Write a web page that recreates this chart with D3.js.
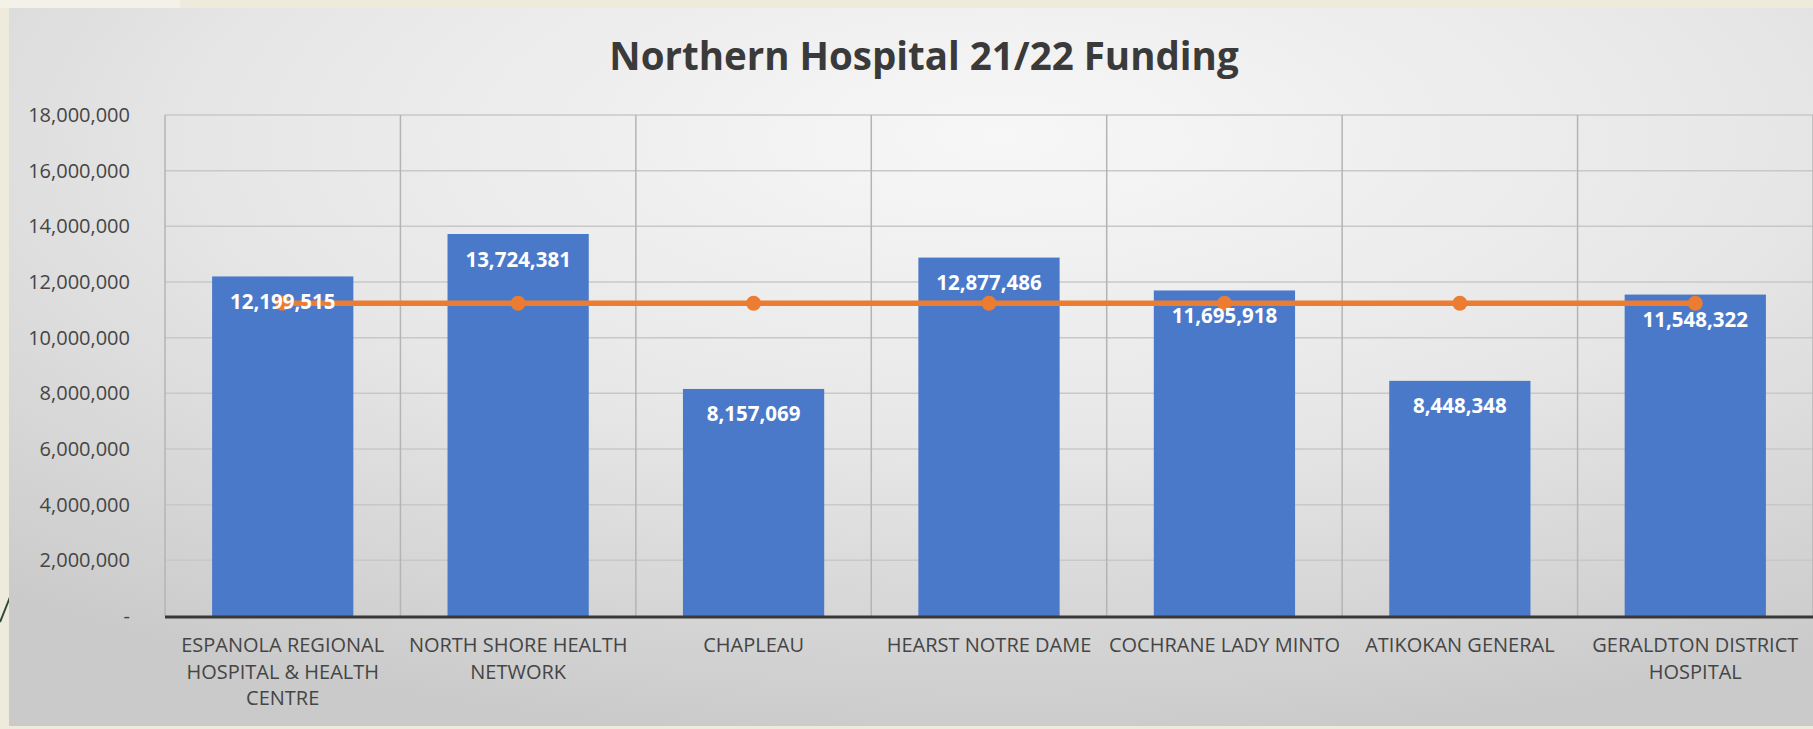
<!DOCTYPE html>
<html>
<head>
<meta charset="utf-8">
<script src="https://cdn.jsdelivr.net/npm/d3@7"></script>
<style>
  html, body { margin: 0; padding: 0; background: #eeebdd; }
  svg { display: block; }
</style>
</head>
<body>
<svg id="chart" width="1813" height="729"></svg>
<script>
// ---- Data ----
const categories = [
  "ESPANOLA REGIONAL HOSPITAL & HEALTH CENTRE",
  "NORTH SHORE HEALTH NETWORK",
  "CHAPLEAU",
  "HEARST NOTRE DAME",
  "COCHRANE LADY MINTO",
  "ATIKOKAN GENERAL",
  "GERALDTON DISTRICT HOSPITAL"
];
const categoryLines = [
  ["ESPANOLA REGIONAL", "HOSPITAL & HEALTH", "CENTRE"],
  ["NORTH SHORE HEALTH", "NETWORK"],
  ["CHAPLEAU"],
  ["HEARST NOTRE DAME"],
  ["COCHRANE LADY MINTO"],
  ["ATIKOKAN GENERAL"],
  ["GERALDTON DISTRICT", "HOSPITAL"]
];
const funding = [12199515, 13724381, 8157069, 12877486, 11695918, 8448348, 11548322];
const average = [11235863, 11235863, 11235863, 11235863, 11235863, 11235863, 11235863];
const yTicks = [0, 2000000, 4000000, 6000000, 8000000, 10000000, 12000000, 14000000, 16000000, 18000000];
const yTickLabels = ["-", "2,000,000", "4,000,000", "6,000,000", "8,000,000", "10,000,000", "12,000,000", "14,000,000", "16,000,000", "18,000,000"];
const title = "Northern Hospital 21/22 Funding";

// ---- Layout ----
const W = 1813, H = 729;
const plot = { left: 165, right: 1813, top: 115, bottom: 616 };
const svg = d3.select("#chart");

// background panel with gradient
const defs = svg.append("defs");
const rg = defs.append("radialGradient").attr("id", "bg")
  .attr("cx", "55%").attr("cy", "18%").attr("r", "85%");
rg.append("stop").attr("offset", "0%").attr("stop-color", "#f7f7f7");
rg.append("stop").attr("offset", "50%").attr("stop-color", "#e7e7e7");
rg.append("stop").attr("offset", "100%").attr("stop-color", "#cacaca");

svg.append("rect").attr("x", 0).attr("y", 0).attr("width", W).attr("height", H).attr("fill", "#eeebdd");
svg.append("rect").attr("x", 0).attr("y", 0).attr("width", 180).attr("height", 8).attr("fill", "#f4f2e8");
// decorative curve
svg.append("path").attr("d", "M0,622 Q5,610 10,597").attr("fill", "none")
  .attr("stroke", "#2e4a35").attr("stroke-width", 2);
svg.append("rect").attr("x", 9).attr("y", 8).attr("width", W - 9).attr("height", 718).attr("fill", "url(#bg)");

// ---- Scales ----
const x = d3.scaleBand().domain(categories).range([plot.left, plot.right]).paddingInner(0).paddingOuter(0);
const y = d3.scaleLinear().domain([0, 18000000]).range([plot.bottom, plot.top]);
const barW = x.bandwidth() * 0.6;

// horizontal gridlines
svg.append("g").selectAll("line").data(yTicks.slice(1)).join("line")
  .attr("x1", plot.left).attr("x2", plot.right)
  .attr("y1", d => y(d)).attr("y2", d => y(d))
  .attr("stroke", "#c8c8c8").attr("stroke-width", 1.5);

// vertical gridlines at category boundaries
const bounds = categories.map(c => x(c)).concat([plot.right]);
svg.append("g").selectAll("line").data(bounds).join("line")
  .attr("x1", d => d).attr("x2", d => d)
  .attr("y1", y(18000000)).attr("y2", plot.bottom)
  .attr("stroke", "#b4b4b4").attr("stroke-width", 1.5);

// y axis
const yAxis = svg.append("g").attr("transform", `translate(${plot.left},0)`)
  .call(d3.axisLeft(y).tickValues(yTicks).tickSize(0).tickPadding(35)
    .tickFormat((d, i) => yTickLabels[i]));
yAxis.select(".domain").remove();
yAxis.selectAll("text").attr("font-family", "'Open Sans', sans-serif").attr("font-size", 20)
  .attr("fill", "#454545");

// bars
svg.append("g").selectAll("rect").data(funding).join("rect")
  .attr("x", (d, i) => x(categories[i]) + (x.bandwidth() - barW) / 2)
  .attr("width", barW)
  .attr("y", d => y(d))
  .attr("height", d => plot.bottom - y(d))
  .attr("fill", "#4b79ca");

// baseline
svg.append("line").attr("x1", plot.left).attr("x2", plot.right)
  .attr("y1", plot.bottom + 1).attr("y2", plot.bottom + 1)
  .attr("stroke", "#383838").attr("stroke-width", 3);

// x axis labels
const xAxis = svg.append("g").attr("transform", `translate(0,${plot.bottom})`)
  .call(d3.axisBottom(x).tickSize(0).tickFormat(""));
xAxis.select(".domain").remove();
xAxis.selectAll(".tick").each(function(d, i) {
  const t = d3.select(this).append("text")
    .attr("font-family", "'Open Sans', sans-serif").attr("font-size", 20)
    .attr("fill", "#454545").attr("text-anchor", "middle");
  categoryLines[i].forEach((line, k) => {
    t.append("tspan").attr("x", 0).attr("y", 36 + k * 26.5).text(line);
  });
});

// average line
const cx = (d, i) => x(categories[i]) + x.bandwidth() / 2;
svg.append("path").datum(average)
  .attr("d", d3.line().x(cx).y(d => y(d)))
  .attr("fill", "none").attr("stroke", "#ec7c31").attr("stroke-width", 5.5);
svg.append("g").selectAll("circle").data(average).join("circle")
  .attr("cx", cx).attr("cy", d => y(d)).attr("r", 7.5).attr("fill", "#ec7c31");

// data labels
const fmt = d3.format(",");
svg.append("g").selectAll("text").data(funding).join("text")
  .attr("x", cx).attr("y", d => y(d) + 32.5)
  .attr("text-anchor", "middle")
  .attr("font-family", "'Open Sans', sans-serif").attr("font-weight", 700).attr("font-size", 20.5)
  .attr("fill", "#ffffff").text(d => fmt(d));

// title
svg.append("text").attr("x", 924).attr("y", 70).attr("text-anchor", "middle")
  .attr("font-family", "'Open Sans', sans-serif").attr("font-weight", 700).attr("font-size", 38.5)
  .attr("fill", "#3a3a3a").text(title);
</script>
</body>
</html>
